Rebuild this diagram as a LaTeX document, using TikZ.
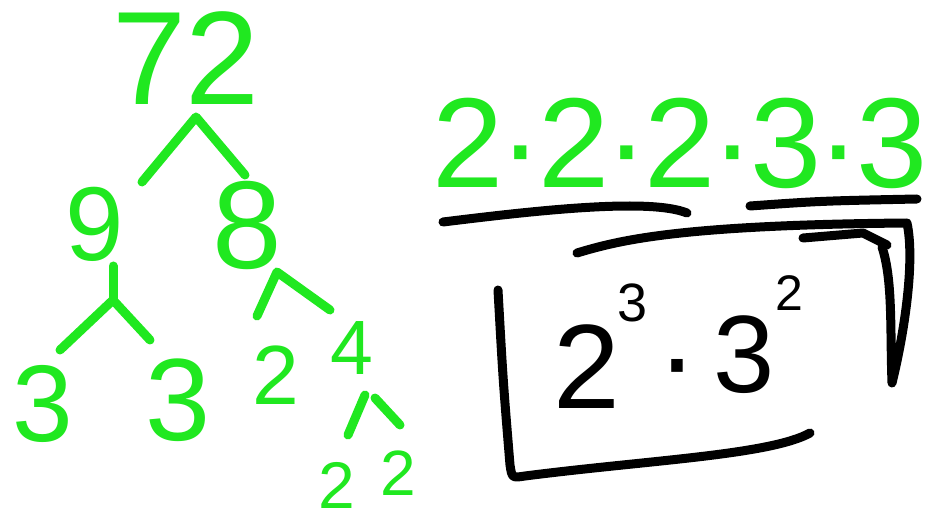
\documentclass[tikz,border=0pt]{standalone}
\usepackage{fontspec}
\setmainfont{Liberation Sans}
\definecolor{lime}{RGB}{32,232,32}
\newcommand\mdt{\kern-0.03em·\kern-0.03em}
\begin{document}
\begin{tikzpicture}[x=1pt,y=-1pt,
  gnum/.style={text=lime,inner sep=0pt,font=\fontsize{#1}{#1}\selectfont},
  branch/.style={draw=lime,line width=9pt,line cap=round,line join=round},
  ink/.style={draw=black,line width=9pt,line cap=round,line join=round}]
\fill[white] (0,0) rectangle (932,521);
\useasboundingbox (0,0) rectangle (932,521);
% factor tree
\node[gnum=133] (n72) at (186,58) {72};
\node[gnum=105] (n9) at (95,224) {9};
\node[gnum=125] (n8) at (247,225) {8};
\node[gnum=109] (n3a) at (43,404) {3};
\node[gnum=117] (n3b) at (178,400) {3};
\node[gnum=84] (n2a) at (276,375) {2};
\node[gnum=77] (n4) at (352,348) {4};
\node[gnum=66] (n2b) at (337,485) {2};
\node[gnum=64] (n2c) at (398,473) {2};
\coordinate (l1) at (142,182); \coordinate (a1) at (196,117); \coordinate (r1) at (245,175);
\draw[branch] (l1) -- (a1) -- (r1);
\coordinate (t9) at (113,266); \coordinate (a2) at (113,300);
\coordinate (l2) at (60,350); \coordinate (r2) at (150,340);
\draw[branch] (t9) -- (a2);
\draw[branch] (l2) -- (a2) -- (r2);
\coordinate (l3) at (257,316); \coordinate (a3) at (277,272); \coordinate (r3) at (330,310);
\draw[branch] (l3) -- (a3) -- (r3);
\coordinate (l4a) at (348,435); \coordinate (l4b) at (365,395);
\coordinate (r4a) at (375,398); \coordinate (r4b) at (400,425);
\draw[branch] (l4a) -- (l4b);
\draw[branch] (r4a) -- (r4b);
% product
\node[gnum=128] (prod) at (680,143) {2\mdt 2\mdt 2\mdt 3\mdt 3};
\coordinate (u1s) at (443,222); \coordinate (u1e) at (687,213);
\draw[ink] (u1s) .. controls (540,210) and (650,198) .. (u1e);
\coordinate (u2s) at (750,206); \coordinate (u2e) at (917,199);
\draw[ink] (u2s) .. controls (820,201) .. (u2e);
% box
\coordinate (bt) at (577,253); \coordinate (bc) at (907,223);
\coordinate (bw) at (892,383); \coordinate (bi) at (882,247);
\draw[ink] (bt) .. controls (620,240) and (680,225) .. (bc)
  .. controls (915,260) and (905,330) .. (bw)
  .. controls (890,330) and (893,280) .. (bi);
\coordinate (s1) at (803,238); \coordinate (s2) at (887,245);
\draw[ink] (s1) -- (863,233) -- (s2);
\coordinate (bl) at (498,290); \coordinate (bb) at (810,433);
\draw[ink] (bl) .. controls (503,380) .. (510,465)
  .. controls (512,478) .. (525,476)
  .. controls (650,460) and (770,455) .. (bb);
\node[inner sep=0pt,anchor=base west,font=\fontsize{120}{120}\selectfont] (res) at (553,408)
  {2\kern-2pt\raisebox{87pt}{\fontsize{54}{54}\selectfont 3}\kern10pt\raisebox{10pt}{·}\kern16pt\raisebox{16pt}{\fontsize{110}{110}\selectfont 3}\kern0pt\raisebox{98pt}{\fontsize{50}{50}\selectfont 2}};
\end{tikzpicture}
\end{document}
